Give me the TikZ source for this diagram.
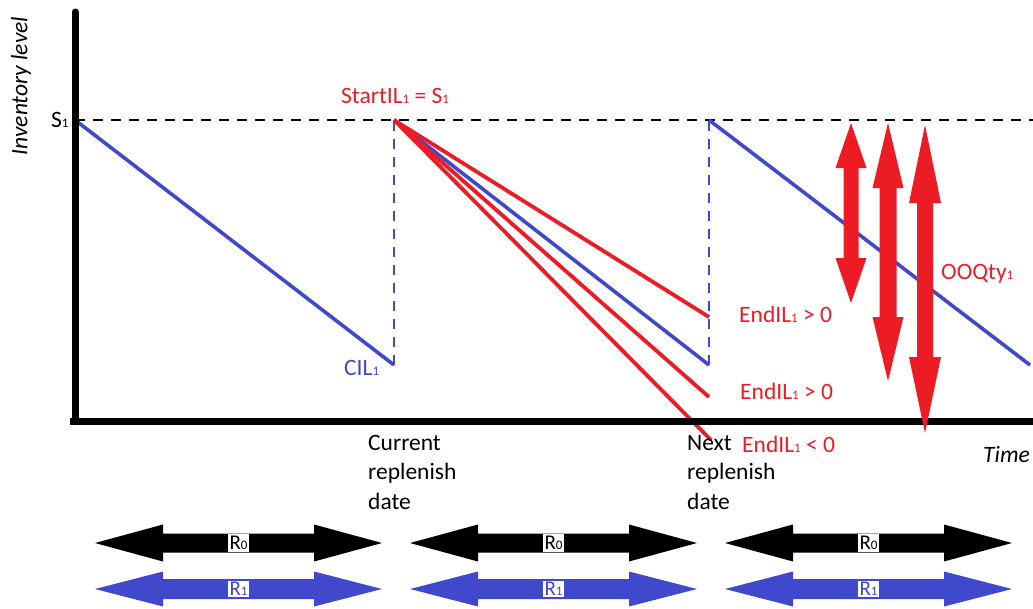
\documentclass[tikz,border=0pt]{standalone}
\usepackage{fontspec}
\setmainfont{Carlito}
\definecolor{ilblue}{RGB}{64,72,204}
\definecolor{ilred}{RGB}{237,28,36}

% small subscript digit sitting on the baseline
\newcommand{\ssub}[1]{\raisebox{-0.5pt}{\fontsize{13}{13}\selectfont #1}}

% horizontal double arrow: x-left, x-right, y, shaft half width, head half width, head length, colour
\newcommand{\hdarrow}[7]{%
  \fill[#7] (#1,#3) -- ({#1+#6},{#3-#5}) -- ({#1+#6},{#3-#4}) -- ({#2-#6},{#3-#4})
    -- ({#2-#6},{#3-#5}) -- (#2,#3) -- ({#2-#6},{#3+#5}) -- ({#2-#6},{#3+#4})
    -- ({#1+#6},{#3+#4}) -- ({#1+#6},{#3+#5}) -- cycle;}
% vertical double arrow: x, y-top, y-bottom, shaft half width, head half width, top head length, bottom head length, colour
\newcommand{\vdarrow}[8]{%
  \fill[#8] (#1,#2) -- ({#1+#5},{#2+#6}) -- ({#1+#4},{#2+#6}) -- ({#1+#4},{#3-#7})
    -- ({#1+#5},{#3-#7}) -- (#1,#3) -- ({#1-#5},{#3-#7}) -- ({#1-#4},{#3-#7})
    -- ({#1-#4},{#2+#6}) -- ({#1-#5},{#2+#6}) -- cycle;}

\begin{document}
\begin{tikzpicture}[x=1pt,y=-1pt,
  every node/.style={font=\fontsize{23.5}{29.5}\selectfont, inner sep=0pt},
  axis/.style={line width=7pt},
  level/.style={black, line width=2.6pt, dash pattern=on 10pt off 8pt},
  blueline/.style={ilblue, line width=3.6pt},
  bluedash/.style={ilblue, line width=2.6pt, dash pattern=on 10pt off 8pt},
  redline/.style={ilred, line width=3.8pt},
  redtext/.style={text=ilred, anchor=base west},
  datetext/.style={anchor=north west, align=left},
  rlabel/.style={fill=white, inner sep=1.5pt, font=\fontsize{21}{21}\selectfont},
]
\useasboundingbox (0,0) rectangle (1033,608);

% key points
\coordinate (o) at (75,421);
\coordinate (ytop) at (75,12);
\coordinate (xend) at (1033,421);
\coordinate (s0) at (75,120);
\coordinate (c1) at (394,365);
\coordinate (s1) at (394,120);
\coordinate (c2) at (709,365);
\coordinate (s2) at (709,120);
\coordinate (c3) at (1030,365);
\coordinate (lend) at (1033,120);
\coordinate (e1) at (709,317);
\coordinate (e2) at (709,397);
\coordinate (e3) at (711,440);

% order-up-to level
\draw[level] (s0) -- (lend);

% inventory path
\draw[blueline] (s0) -- (c1);
\draw[bluedash] (c1) -- (s1);
\draw[blueline] (s1) -- (c2);
\draw[bluedash] (c2) -- (s2);
\draw[blueline] (s2) -- (c3);

% alternative demand scenarios
\draw[redline] (s1) -- (e1);
\draw[redline] (s1) -- (e2);
\draw[redline] (s1) -- (e3);

% axes
\draw[axis, line cap=round] (o) -- (ytop);
\draw[axis] (70,421) -- (xend);

% order quantities
\vdarrow{851}{123}{303}{7.5}{15.5}{45}{45}{ilred}
\vdarrow{888}{123}{381}{8.5}{15.5}{65}{64}{ilred}
\vdarrow{925}{125}{433}{8}{16}{78}{76}{ilred}

% labels
\node[rotate=90, font=\fontsize{23.5}{29.5}\selectfont\itshape] (ylab) at (21,86) {Inventory level};
\node[anchor=base west] (slab) at (51,127) {S\ssub{1}};
\node[redtext] (start) at (341,103) {StartIL\ssub{1} = S\ssub{1}};
\node[anchor=base west, text=ilblue] (cil) at (344,375) {CIL\ssub{1}};
\node[redtext] (end1) at (739,322) {EndIL\ssub{1} > 0};
\node[redtext] (end2) at (740,399) {EndIL\ssub{1} > 0};
\node[redtext] (end3) at (742,452) {EndIL\ssub{1} < 0};
\node[redtext] (ooq) at (941,279) {OOQty\ssub{1}};
\node[anchor=base west, font=\fontsize{23.5}{29.5}\selectfont\itshape] (time) at (983,462) {Time};
\node[datetext] (cur) at (368,435) {Current\\replenish\\date};
\node[datetext] (next) at (687,435) {Next\\replenish\\date};

% review periods
\foreach \a/\b [count=\i] in {95/382, 410/697, 725/1012}{
  \hdarrow{\a}{\b}{543}{9.5}{18.5}{68}{black}
  \hdarrow{\a}{\b}{589}{10}{17.5}{68}{ilblue}
  \node[rlabel] (rz\i) at ({(\a+\b)/2},543) {R\ssub{0}};
  \node[rlabel, text=ilblue] (ro\i) at ({(\a+\b)/2},589) {R\ssub{1}};
}
\end{tikzpicture}
\end{document}
